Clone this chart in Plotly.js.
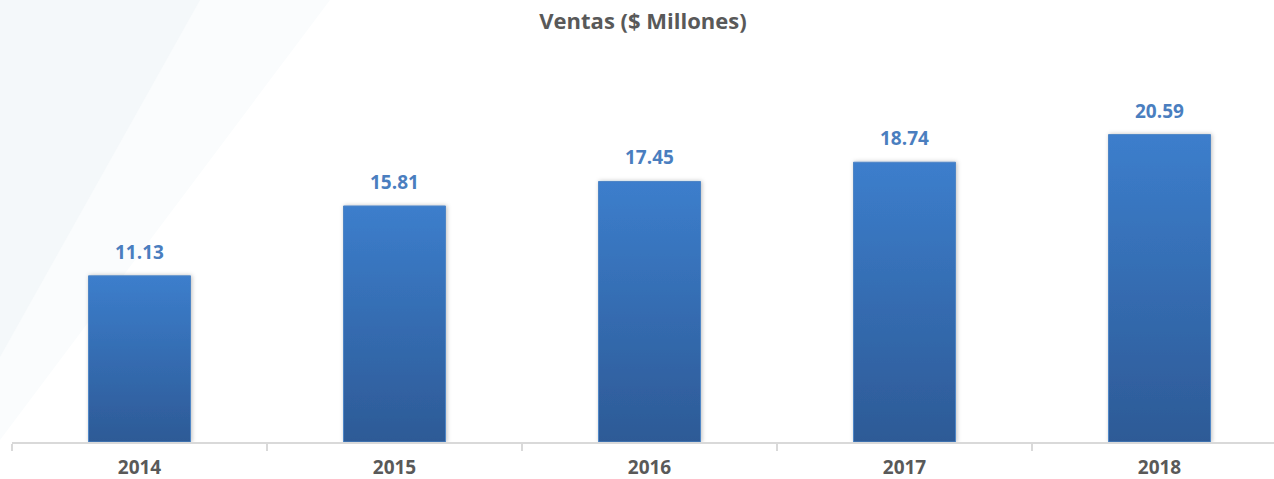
<!DOCTYPE html>
<html>
<head>
<meta charset="utf-8">
<script src="https://cdn.plot.ly/plotly-3.0.1.min.js"></script>
<style>
  html, body { margin: 0; padding: 0; background: #ffffff; }
  #chart { width: 1274px; height: 479px; }
</style>
</head>
<body>
<div id="chart"></div>
<script>
const categories = ['2014', '2015', '2016', '2017', '2018'];
const ventas = [11.13, 15.81, 17.45, 18.74, 20.59];
const labels = ['11.13', '15.81', '17.45', '18.74', '20.59'];
const chartTitle = 'Ventas ($ Millones)';

const W = 1274, H = 479;
const M = { l: 12, r: 0, t: 84, b: 37 };
const PW = W - M.l - M.r, PH = H - M.t - M.b;
function px(X) { return (X - M.l) / PW; }
function py(Y) { return 1 - (Y - M.t) / PH; }
function poly(pts) {
  return 'M ' + pts.map(p => px(p[0]).toFixed(4) + ',' + py(p[1]).toFixed(4)).join(' L ') + ' Z';
}

const trace = {
  type: 'bar',
  x: categories,
  y: ventas,
  width: 0.4,
  marker: { color: '#3a73b9', line: { color: '#4f86c6', width: 1 } },
  hoverinfo: 'skip'
};

// category axes place annotations by category index
const annotations = categories.map((c, i) => ({
  x: i, y: ventas[i], xref: 'x', yref: 'y',
  text: '<b>' + labels[i] + '</b>',
  showarrow: false, yanchor: 'bottom', yshift: 9,
  font: { family: 'Open Sans, sans-serif', size: 19, color: '#4a7ebf' }
}));

const layout = {
  width: W, height: H,
  margin: M,
  paper_bgcolor: '#ffffff',
  plot_bgcolor: 'rgba(0,0,0,0)',
  showlegend: false,
  title: {
    text: '<b>' + chartTitle + '</b>',
    font: { family: 'Open Sans, sans-serif', size: 22, color: '#595959' },
    x: 0.5, xref: 'paper', y: 1 - 21 / H, yanchor: 'middle'
  },
  xaxis: {
    type: 'category',
    range: [-0.5, -0.5 + PW / 255],
    showline: true, linecolor: '#d9d9d9', linewidth: 2,
    ticks: 'outside', tickson: 'boundaries', ticklen: 7, tickcolor: '#d9d9d9', tickwidth: 2,
    ticklabelstandoff: 7,
    tickfont: { family: 'Open Sans, sans-serif', size: 19, color: '#595959', weight: 'bold' },
    showgrid: false, zeroline: false, fixedrange: true
  },
  yaxis: {
    range: [0, PH / 14.93],
    visible: true, showticklabels: false, ticks: '', showline: false,
    showgrid: false, zeroline: false, fixedrange: true
  },
  annotations: annotations,
  shapes: [
    { type: 'path', xref: 'paper', yref: 'paper', layer: 'below',
      path: poly([[0, 0], [330, 0], [0, 440], [0, 357]]),
      fillcolor: '#fafcfd', line: { width: 0 } },
    { type: 'path', xref: 'paper', yref: 'paper', layer: 'below',
      path: poly([[0, 0], [200, 0], [0, 357]]),
      fillcolor: '#f4f8fa', line: { width: 0 } }
  ]
};

Plotly.newPlot('chart', [trace], layout, { staticPlot: true, displayModeBar: false }).then(gd => {
  const svg = gd.querySelector('svg.main-svg');
  const ns = 'http://www.w3.org/2000/svg';
  let defs = svg.querySelector('defs');
  if (!defs) { defs = document.createElementNS(ns, 'defs'); svg.insertBefore(defs, svg.firstChild); }
  const grad = document.createElementNS(ns, 'linearGradient');
  grad.setAttribute('id', 'barGrad');
  grad.setAttribute('x1', '0'); grad.setAttribute('y1', '0');
  grad.setAttribute('x2', '0'); grad.setAttribute('y2', '1');
  [['0', '#3c7ecc'], ['1', '#2d5a96']].forEach(([o, c]) => {
    const s = document.createElementNS(ns, 'stop');
    s.setAttribute('offset', o); s.setAttribute('stop-color', c);
    grad.appendChild(s);
  });
  defs.appendChild(grad);
  const filt = document.createElementNS(ns, 'filter');
  filt.setAttribute('id', 'barShadow');
  filt.setAttribute('x', '-20%'); filt.setAttribute('y', '-5%');
  filt.setAttribute('width', '140%'); filt.setAttribute('height', '110%');
  const ds = document.createElementNS(ns, 'feDropShadow');
  ds.setAttribute('dx', '1'); ds.setAttribute('dy', '0');
  ds.setAttribute('stdDeviation', '2');
  ds.setAttribute('flood-color', '#000'); ds.setAttribute('flood-opacity', '0.25');
  filt.appendChild(ds);
  defs.appendChild(filt);
  gd.querySelectorAll('.trace.bars .point path').forEach(p => {
    p.style.fill = 'url(#barGrad)';
    p.setAttribute('filter', 'url(#barShadow)');
  });
});
</script>
</body>
</html>
